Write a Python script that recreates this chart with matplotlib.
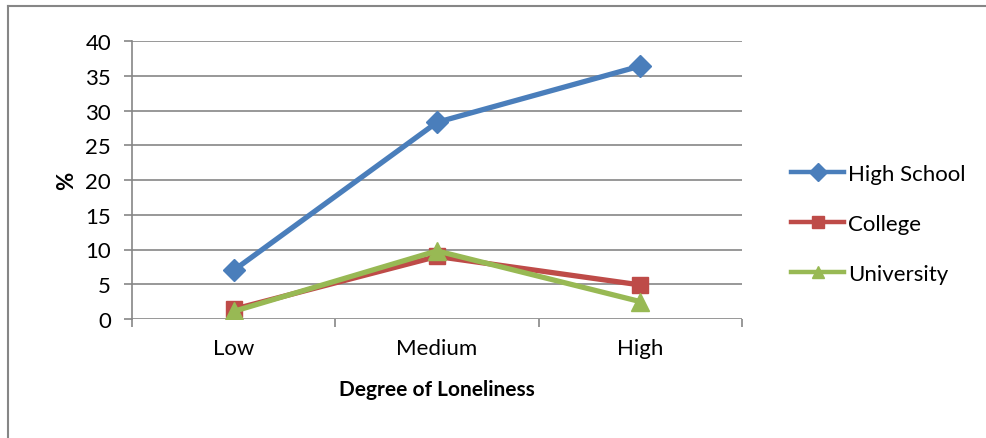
import matplotlib
matplotlib.use("Agg")
import matplotlib.pyplot as plt
from matplotlib.lines import Line2D

categories = ["Low", "Medium", "High"]
high_school = [7.0, 28.3, 36.4]
college = [1.4, 9.0, 4.9]
university = [1.1, 9.8, 2.5]

series = [
    ("High School", high_school, "#4a7ebb", "D", 11),
    ("College", college, "#be4b48", "s", 12),
    ("University", university, "#98b954", "^", 13),
]

plt.rcParams['font.family'] = ['Lato', 'DejaVu Sans']

fig = plt.figure(figsize=(9.86, 4.39), dpi=100)
ax = fig.add_axes([132 / 986, 1 - 320 / 439, (742 - 132) / 986, (320 - 42) / 439])

x = [i + 0.5 for i in range(len(categories))]
for name, vals, col, mk, ms in series:
    ax.plot(x, vals, color=col, lw=3.8, marker=mk, markersize=ms,
            markeredgecolor=col, label=name, solid_capstyle='round')

ax.set_xlim(0, 3)
ax.set_ylim(0, 40)
ax.set_yticks(range(0, 41, 5))
ax.set_xticks([0.5, 1.5, 2.5])
ax.set_xticklabels(categories)
ax.set_xticks([0, 1, 2, 3], minor=True)
ax.grid(axis='y', color='#868686', lw=1.2)
ax.set_axisbelow(True)
for s in ['top', 'right', 'bottom']:
    ax.spines[s].set_visible(False)
ax.spines['left'].set_color('#868686')
ax.spines['left'].set_linewidth(1.2)
ax.tick_params(axis='y', length=6, width=1.2, color='#868686', labelsize=16, pad=9)
ax.tick_params(axis='x', which='major', length=0, labelsize=16, pad=14)
ax.tick_params(axis='x', which='minor', length=6, width=1.2, color='#868686')

ax.set_xlabel("Degree of Loneliness", fontsize=15, fontweight='bold', labelpad=15)
ax.set_ylabel("%", fontsize=16, fontweight='bold', labelpad=6)

handles = [Line2D([0], [0], color=c, lw=3.2, marker=m, markersize=9, markeredgecolor=c)
           for _, _, c, m, ms in series]
fig.legend(handles, [s[0] for s in series], loc='center left',
           bbox_to_anchor=(771 / 986, 1 - 225 / 439), frameon=False,
           fontsize=16, handlelength=2.4, handletextpad=0.15, labelspacing=1.35)

# outer chart frame (left and top edges visible)
fig.add_artist(Line2D([8 / 986, 8 / 986], [0, 1 - 7 / 439], transform=fig.transFigure,
                      color='#868686', lw=1.5))
fig.add_artist(Line2D([8 / 986, 1], [1 - 7 / 439, 1 - 7 / 439], transform=fig.transFigure,
                      color='#868686', lw=1.5))

fig.savefig("out.png", dpi=100)
